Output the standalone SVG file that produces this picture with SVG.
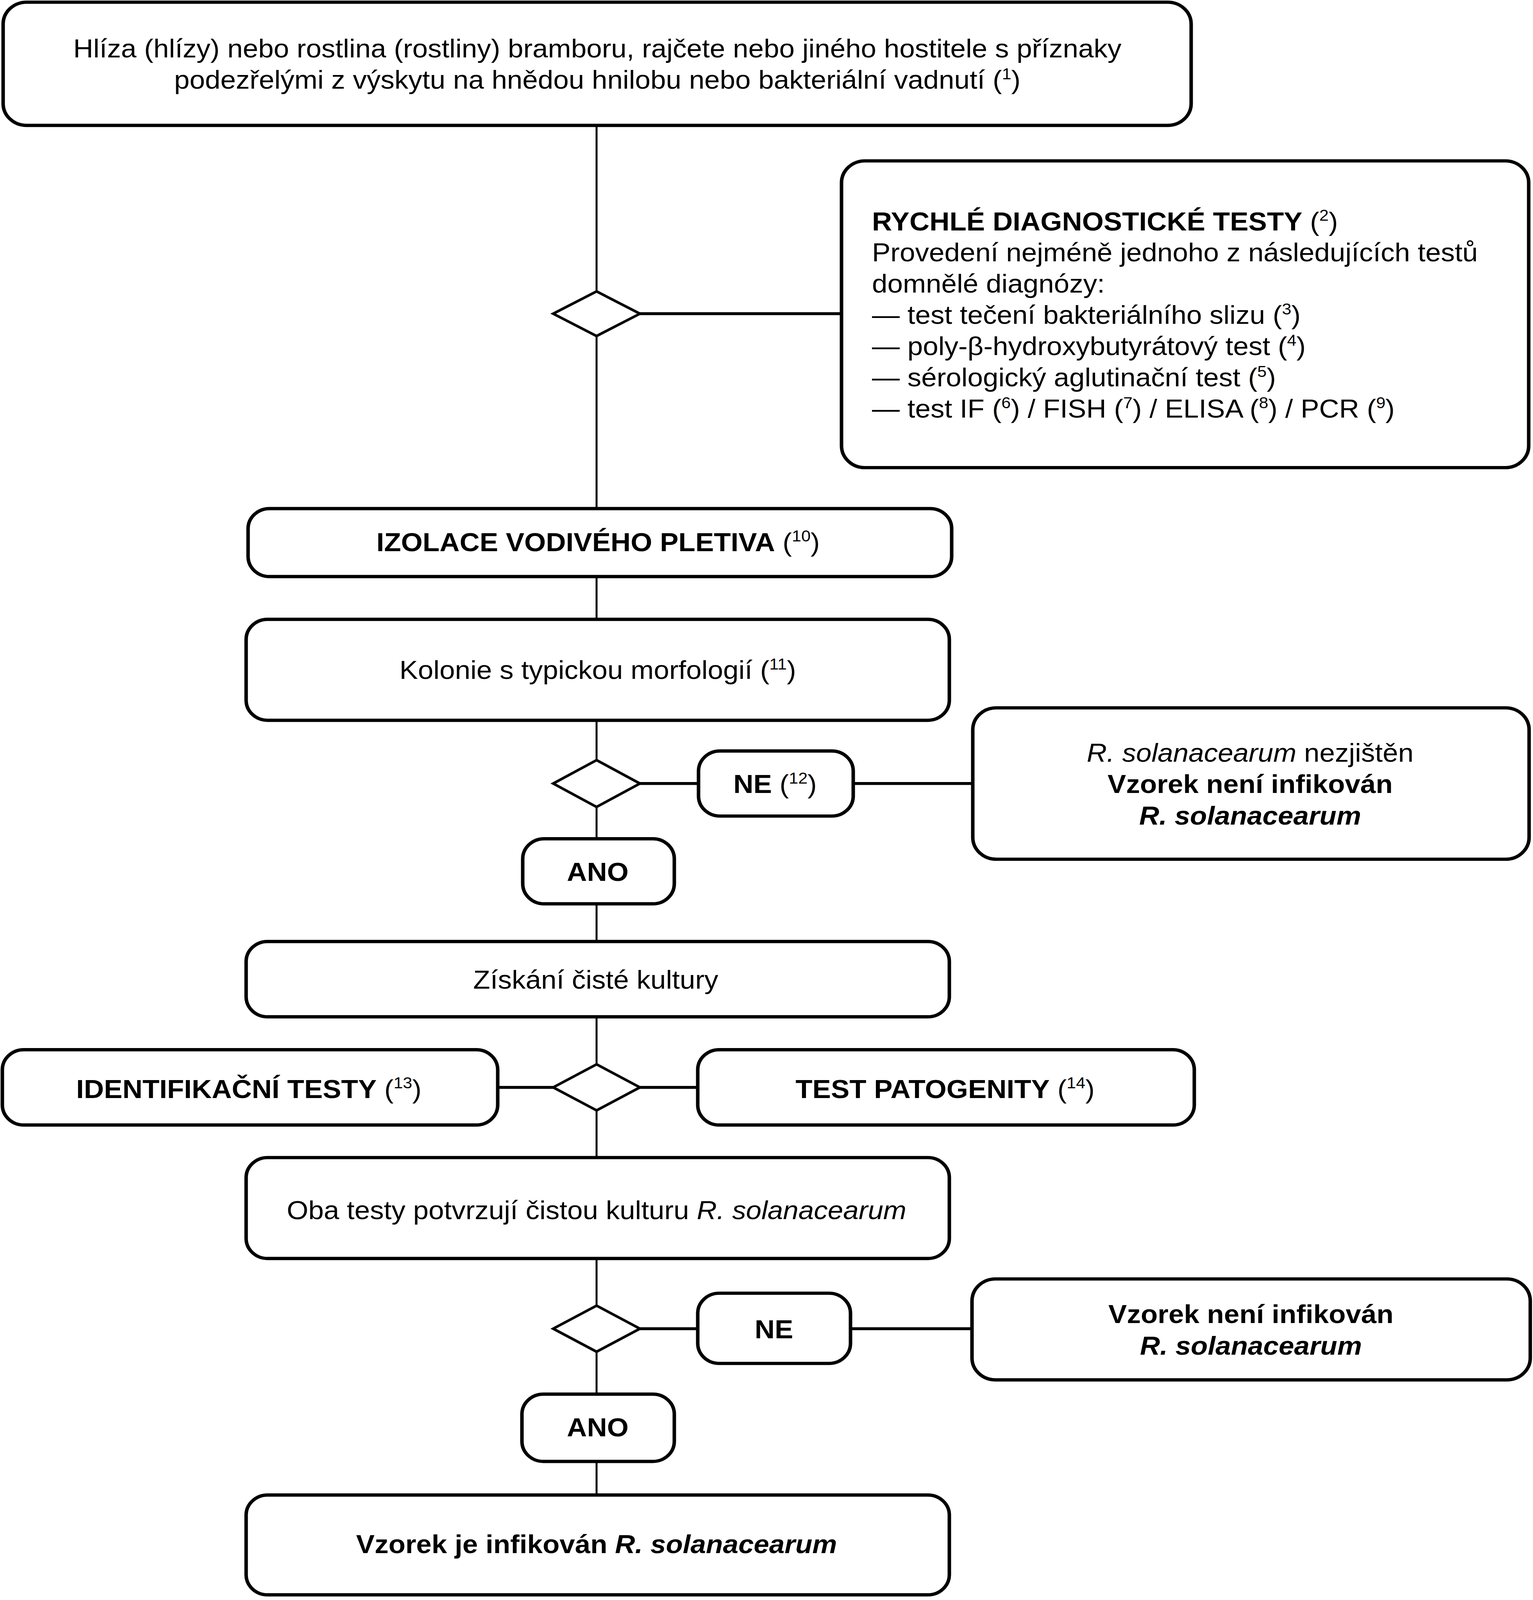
<svg xmlns="http://www.w3.org/2000/svg" width="3924" height="4369" viewBox="0 0 3924 4369">
<style>
.box{fill:#fff;stroke:#000;stroke-width:9}
.dia{fill:#fff;stroke:#000;stroke-width:7;stroke-linejoin:miter}
.v{stroke:#000;stroke-width:5;fill:none}
.h{stroke:#000;stroke-width:8;fill:none}
text{font-family:"Liberation Sans",Arial,sans-serif;font-size:71px;fill:#000}
.c{text-anchor:middle}
.b{font-weight:bold}
.i{font-style:italic}
.sup{font-size:43px;font-weight:normal;font-style:normal}
</style>
<rect width="3924" height="4369" fill="#fff"/>
<g id="diagram" transform="scale(1,0.936)">
<g id="connectors">
<line class="v" x1="1527" y1="343" x2="1527" y2="797"/>
<line class="v" x1="1527" y1="919" x2="1527" y2="1391"/>
<line class="v" x1="1527" y1="1577" x2="1527" y2="1694"/>
<line class="v" x1="1527" y1="1970" x2="1527" y2="2079"/>
<line class="v" x1="1527" y1="2207" x2="1527" y2="2294"/>
<line class="v" x1="1527" y1="2472" x2="1527" y2="2575"/>
<line class="v" x1="1527" y1="2781" x2="1527" y2="2911"/>
<line class="v" x1="1527" y1="3037" x2="1527" y2="3166"/>
<line class="v" x1="1527" y1="3442" x2="1527" y2="3571"/>
<line class="v" x1="1527" y1="3697" x2="1527" y2="3813"/>
<line class="v" x1="1527" y1="3997" x2="1527" y2="4089"/>
<line class="h" x1="1638" y1="858" x2="2154" y2="858"/>
<line class="h" x1="1638" y1="2143" x2="1788" y2="2143"/>
<line class="h" x1="2184" y1="2143" x2="2490" y2="2143"/>
<line class="h" x1="1274" y1="2974" x2="1416" y2="2974"/>
<line class="h" x1="1638" y1="2974" x2="1786" y2="2974"/>
<line class="h" x1="1638" y1="3634" x2="1786" y2="3634"/>
<line class="h" x1="2177" y1="3634" x2="2488" y2="3634"/>
</g>
<g id="n-start">
<rect class="box" x="8" y="6" width="3041" height="337" rx="60"/>
<text class="c" x="1529" y="157">Hlíza (hlízy) nebo rostlina (rostliny) bramboru, rajčete nebo jiného hostitele s příznaky</text>
<text class="c" x="1529" y="243">podezřelými z výskytu na hnědou hnilobu nebo bakteriální vadnutí (<tspan class="sup" dy="-26">1</tspan><tspan dy="26">)</tspan></text>
</g>
<g id="d1"><polygon class="dia" points="1527,797 1638,858 1527,919 1416,858"/></g>
<g id="n-rapid">
<rect class="box" x="2154" y="440" width="1759" height="839" rx="60"/>
<text x="2232" y="630"><tspan class="b">RYCHLÉ DIAGNOSTICKÉ TESTY</tspan> (<tspan class="sup" dy="-26">2</tspan><tspan dy="26">)</tspan></text>
<text x="2232" y="715">Provedení nejméně jednoho z následujících testů</text>
<text x="2232" y="800">domnělé diagnózy:</text>
<text x="2232" y="886">— test tečení bakteriálního slizu (<tspan class="sup" dy="-26">3</tspan><tspan dy="26">)</tspan></text>
<text x="2232" y="971">— poly-β-hydroxybutyrátový test (<tspan class="sup" dy="-26">4</tspan><tspan dy="26">)</tspan></text>
<text x="2232" y="1057">— sérologický aglutinační test (<tspan class="sup" dy="-26">5</tspan><tspan dy="26">)</tspan></text>
<text x="2232" y="1142">— test IF (<tspan class="sup" dy="-26">6</tspan><tspan dy="26">) / FISH (</tspan><tspan class="sup" dy="-26">7</tspan><tspan dy="26">) / ELISA (</tspan><tspan class="sup" dy="-26">8</tspan><tspan dy="26">) / PCR (</tspan><tspan class="sup" dy="-26">9</tspan><tspan dy="26">)</tspan></text>
</g>
<g id="n-izolace">
<rect class="box" x="635" y="1391" width="1801" height="186" rx="55"/>
<text class="c" x="1531" y="1507"><tspan class="b">IZOLACE VODIVÉHO PLETIVA</tspan> (<tspan class="sup" dy="-26">10</tspan><tspan dy="26">)</tspan></text>
</g>
<g id="n-kolonie">
<rect class="box" x="630" y="1694" width="1800" height="276" rx="55"/>
<text class="c" x="1530" y="1857">Kolonie s typickou morfologií (<tspan class="sup" dy="-26">11</tspan><tspan dy="26">)</tspan></text>
</g>
<g id="d2"><polygon class="dia" points="1527,2079 1638,2143 1527,2207 1416,2143"/></g>
<g id="n-ne1">
<rect class="box" x="1788" y="2054" width="396" height="178" rx="55"/>
<text class="c" x="1984" y="2169"><tspan class="b">NE</tspan> (<tspan class="sup" dy="-26">12</tspan><tspan dy="26">)</tspan></text>
</g>
<g id="n-notfound">
<rect class="box" x="2490" y="1936" width="1424" height="414" rx="60"/>
<text class="c" x="3200" y="2083"><tspan class="i">R. solanacearum</tspan> nezjištěn</text>
<text class="c b" x="3200" y="2169">Vzorek není infikován</text>
<text class="c b i" x="3200" y="2255">R. solanacearum</text>
</g>
<g id="n-ano1">
<rect class="box" x="1338" y="2294" width="388" height="178" rx="55"/>
<text class="c b" x="1530" y="2409">ANO</text>
</g>
<g id="n-ziskani">
<rect class="box" x="630" y="2575" width="1800" height="206" rx="55"/>
<text class="c" x="1525" y="2704">Získání čisté kultury</text>
</g>
<g id="d3"><polygon class="dia" points="1527,2911 1638,2974 1527,3037 1416,2974"/></g>
<g id="n-ident">
<rect class="box" x="6" y="2871" width="1268" height="206" rx="55"/>
<text class="c" x="637" y="3003"><tspan class="b">IDENTIFIKAČNÍ TESTY</tspan> (<tspan class="sup" dy="-26">13</tspan><tspan dy="26">)</tspan></text>
</g>
<g id="n-patog">
<rect class="box" x="1786" y="2871" width="1271" height="206" rx="55"/>
<text class="c" x="2419" y="3003"><tspan class="b">TEST PATOGENITY</tspan> (<tspan class="sup" dy="-26">14</tspan><tspan dy="26">)</tspan></text>
</g>
<g id="n-oba">
<rect class="box" x="630" y="3166" width="1800" height="276" rx="55"/>
<text class="c" x="1527" y="3334">Oba testy potvrzují čistou kulturu <tspan class="i">R. solanacearum</tspan></text>
</g>
<g id="d4"><polygon class="dia" points="1527,3571 1638,3634 1527,3697 1416,3634"/></g>
<g id="n-ne2">
<rect class="box" x="1786" y="3537" width="391" height="192" rx="55"/>
<text class="c b" x="1981" y="3660">NE</text>
</g>
<g id="n-notinf">
<rect class="box" x="2488" y="3498" width="1429" height="276" rx="60"/>
<text class="c b" x="3202" y="3619">Vzorek není infikován</text>
<text class="c b i" x="3202" y="3705">R. solanacearum</text>
</g>
<g id="n-ano2">
<rect class="box" x="1336" y="3813" width="390" height="184" rx="55"/>
<text class="c b" x="1530" y="3928">ANO</text>
</g>
<g id="n-final">
<rect class="box" x="630" y="4089" width="1800" height="273" rx="55"/>
<text class="c b" x="1527" y="4248">Vzorek je infikován <tspan class="i">R. solanacearum</tspan></text>
</g>
</g>
</svg>
